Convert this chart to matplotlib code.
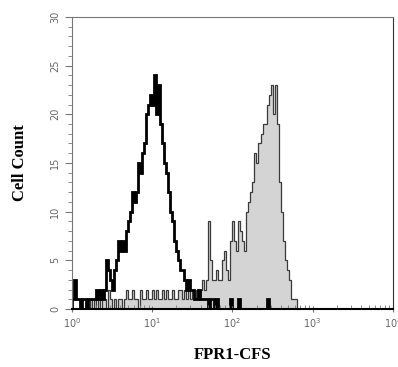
import numpy as np
import matplotlib.pyplot as plt

# channel bins: 160 bins over 4 decades (log10 0..4)
n_bins = 160
log_edges = np.linspace(0, 4, n_bins + 1)

# isotype control (black open histogram)
control = [1, 3, 1, 1, 0, 1, 1, 0, 1, 1,
           1, 1, 2, 1, 2, 1, 2, 5, 4, 3,
           2, 4, 5, 7, 6, 7, 6, 8, 9, 10,
           12, 11, 12, 15, 14, 16, 17, 20, 21, 22,
           21, 24, 20, 23, 19, 17, 15, 14, 12, 10,
           9, 7, 6, 5, 4, 4, 3, 2, 3, 2,
           2, 1, 1, 2, 1, 1, 1, 1, 0, 1,
           1, 0, 1, 0, 0, 0, 0, 0, 0, 1,
           0, 0, 0, 1, 0, 0, 0, 0, 0, 0,
           0, 0, 0, 0, 0, 0, 0, 1, 0, 0] + [0] * 60

# FPR1 stained (grey filled histogram)
fpr1 = [0, 0, 0, 0, 0, 0, 0, 0, 0, 1,
        0, 1, 0, 1, 0, 1, 1, 0, 2, 1,
        0, 1, 0, 1, 1, 0, 1, 2, 1, 1,
        2, 1, 1, 0, 2, 1, 1, 2, 1, 1,
        2, 1, 2, 1, 1, 2, 1, 2, 1, 1,
        2, 1, 1, 2, 2, 1, 2, 1, 2, 1,
        2, 1, 2, 1, 2, 3, 2, 3, 9, 5,
        3, 3, 4, 3, 3, 5, 6, 4, 3, 7,
        9, 7, 6, 9, 8, 7, 6, 10, 11, 12,
        13, 16, 15, 17, 18, 19, 19, 21, 22, 23,
        20, 23, 19, 13, 10, 7, 5, 4, 3, 1,
        1, 1] + [0] * 48

edges = 10 ** log_edges

fig = plt.figure(figsize=(3.98, 3.67), dpi=100)
ax = fig.add_axes([0.181, 0.158, 0.806, 0.796])

ax.stairs(fpr1, edges, fill=True, color='#d4d4d4')
ax.stairs(fpr1, edges, color='#3a3a3a', linewidth=0.9)
ax.stairs(control, edges, color='black', linewidth=2.0)

ax.set_xscale('log')
ax.set_xlim(1, 1e4)
ax.set_ylim(0, 30)
ax.set_yticks(range(0, 31, 5))
ax.set_yticks(range(0, 31), minor=True)

ax.tick_params(axis='both', which='both', colors='#777777', labelsize=7,
               labelcolor='#666666')
ax.tick_params(axis='y', which='major', length=5, direction='out')
ax.tick_params(axis='y', which='minor', length=3, direction='out')
ax.tick_params(axis='x', which='major', length=4, direction='inout')
ax.tick_params(axis='x', which='minor', length=3, direction='in')
for lab in ax.get_yticklabels():
    lab.set_rotation(90)
    lab.set_va('center')

ax.spines['left'].set_color('#777777')
ax.spines['top'].set_color('#777777')
ax.spines['right'].set_color('#333333')
ax.spines['bottom'].set_color('black')
ax.spines['bottom'].set_linewidth(1.5)

ax.set_ylabel('Cell Count', fontfamily='Liberation Serif', fontweight='bold',
              fontsize=12, labelpad=16)
ax.set_xlabel('FPR1-CFS', fontfamily='Liberation Serif', fontweight='bold',
              fontsize=12, labelpad=12)

fig.savefig('out.png', dpi=100)
